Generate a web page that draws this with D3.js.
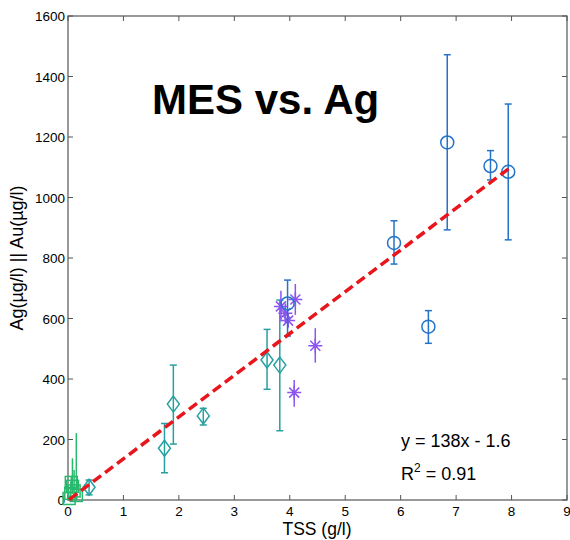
<!DOCTYPE html>
<html>
<head>
<meta charset="utf-8">
<script src="https://cdn.jsdelivr.net/npm/d3@7"></script>
<style>
body { margin: 0; background: #fff; }
svg text { font-family: "Liberation Sans", Arial, sans-serif; }
</style>
</head>
<body>
<script>
// series: [x, y, errLow, errHigh]
var circles = [
	[5.88, 850, 780, 923],
	[6.84, 1182, 893, 1472],
	[7.62, 1104, 1058, 1155],
	[7.94, 1085, 860, 1309],
	[6.50, 573, 518, 626],
	[3.96, 650, 542, 727]
];
var diamonds = [
	[0.38, 42, 17, 66],
	[1.74, 171, 90, 253],
	[1.90, 317, 185, 446],
	[2.44, 278, 248, 303],
	[3.59, 463, 366, 564],
	[3.82, 446, 229, 661]
];
var stars = [
	[3.84, 640, 590, 692],
	[3.92, 617, 585, 650],
	[3.97, 593, 570, 615],
	[4.10, 663, 612, 714],
	[4.46, 510, 454, 568],
	[4.08, 355, 308, 397]
];
var squares = [
	[0.02, 5, 0, 15],
	[0.05, 22, 5, 60],
	[0.08, 45, 20, 138],
	[0.11, 30, 10, 99],
	[0.15, 15, 5, 221],
	[0.06, 58, 40, 80]
];
var fit = { slope: 138, intercept: -1.6, x0: 0.02, x1: 7.95 };
var xTicks = [0, 1, 2, 3, 4, 5, 6, 7, 8, 9];
var yTicks = [0, 200, 400, 600, 800, 1000, 1200, 1400, 1600];

var width = 570, height = 540;
var margin = { left: 68, right: 3, top: 16, bottom: 40 };

var svg = d3.select('body').append('svg')
	.attr('width', width)
	.attr('height', height);

var x = d3.scaleLinear().domain([0, 9]).range([margin.left, width - margin.right]);
var y = d3.scaleLinear().domain([0, 1600]).range([height - margin.bottom, margin.top]);

// frame + ticks
var axisColor = '#555';
var frame = svg.append('g');
frame.append('rect')
	.attr('x', x(0)).attr('y', y(1600))
	.attr('width', x(9) - x(0)).attr('height', y(0) - y(1600))
	.attr('fill', 'none').attr('stroke', axisColor).attr('stroke-width', 1.2);

var tl = 5;
xTicks.forEach(function(t) {
	frame.append('line').attr('x1', x(t)).attr('x2', x(t)).attr('y1', y(0)).attr('y2', y(0) - tl).attr('stroke', axisColor);
	frame.append('line').attr('x1', x(t)).attr('x2', x(t)).attr('y1', y(1600)).attr('y2', y(1600) + tl).attr('stroke', axisColor);
	frame.append('text').attr('x', x(t)).attr('y', y(0) + 16)
		.attr('text-anchor', 'middle').attr('font-size', 13.5).text(t);
});
yTicks.forEach(function(t) {
	frame.append('line').attr('y1', y(t)).attr('y2', y(t)).attr('x1', x(0)).attr('x2', x(0) + tl).attr('stroke', axisColor);
	frame.append('line').attr('y1', y(t)).attr('y2', y(t)).attr('x1', x(9)).attr('x2', x(9) - tl).attr('stroke', axisColor);
	frame.append('text').attr('x', x(0) - 3).attr('y', y(t) + 5)
		.attr('text-anchor', 'end').attr('font-size', 13.5).text(t);
});

// axis labels
svg.append('text').attr('x', 317).attr('y', 535)
	.attr('text-anchor', 'middle').attr('font-size', 17.5).text('TSS (g/l)');
svg.append('text').attr('transform', 'translate(23,258) rotate(-90)')
	.attr('text-anchor', 'middle').attr('font-size', 18).text('Ag(µg/l) || Au(µg/l)');

// error bars
function errorBars(data, color, cap) {
	var g = svg.append('g').attr('stroke', color).attr('stroke-width', 1.5);
	data.forEach(function(d) {
		g.append('line').attr('x1', x(d[0])).attr('x2', x(d[0])).attr('y1', y(d[2])).attr('y2', y(d[3]));
		if (cap) {
			[d[2], d[3]].forEach(function(v) {
				g.append('line').attr('x1', x(d[0]) - cap).attr('x2', x(d[0]) + cap).attr('y1', y(v)).attr('y2', y(v));
			});
		}
	});
	return g;
}

var cSq = 'rgb(40,185,110)', cDia = 'rgb(38,160,160)', cStar = 'rgb(140,85,240)', cCirc = 'rgb(35,115,200)';

// squares
errorBars(squares, cSq, 0);
svg.append('g').selectAll('rect').data(squares).enter().append('rect')
	.attr('x', function(d) { return x(d[0]) - 6; })
	.attr('y', function(d) { return y(d[1]) - 6; })
	.attr('width', 12).attr('height', 12)
	.attr('fill', 'none').attr('stroke', cSq).attr('stroke-width', 1.5);

// diamonds
errorBars(diamonds, cDia, 3.5);
svg.append('g').selectAll('path').data(diamonds).enter().append('path')
	.attr('d', function(d) {
		var cx = x(d[0]), cy = y(d[1]);
		return 'M' + cx + ',' + (cy - 8) + 'L' + (cx + 6) + ',' + cy + 'L' + cx + ',' + (cy + 8) + 'L' + (cx - 6) + ',' + cy + 'Z';
	})
	.attr('fill', 'none').attr('stroke', cDia).attr('stroke-width', 1.5);

// stars
errorBars(stars, cStar, 0);
svg.append('g').selectAll('path').data(stars).enter().append('path')
	.attr('d', function(d) {
		var cx = x(d[0]), cy = y(d[1]), r = 7, s = 5;
		return 'M' + (cx - r) + ',' + cy + 'L' + (cx + r) + ',' + cy +
			'M' + cx + ',' + (cy - r) + 'L' + cx + ',' + (cy + r) +
			'M' + (cx - s) + ',' + (cy - s) + 'L' + (cx + s) + ',' + (cy + s) +
			'M' + (cx - s) + ',' + (cy + s) + 'L' + (cx + s) + ',' + (cy - s);
	})
	.attr('fill', 'none').attr('stroke', cStar).attr('stroke-width', 1.5);
svg.append('g').selectAll('circle').data(stars).enter().append('circle')
	.attr('cx', function(d) { return x(d[0]); })
	.attr('cy', function(d) { return y(d[1]); })
	.attr('r', 2).attr('fill', cStar);

// circles
errorBars(circles, cCirc, 3.5);
svg.append('g').selectAll('circle').data(circles).enter().append('circle')
	.attr('cx', function(d) { return x(d[0]); })
	.attr('cy', function(d) { return y(d[1]); })
	.attr('r', 6.5)
	.attr('fill', 'none').attr('stroke', cCirc).attr('stroke-width', 1.5);

// regression line
var line = d3.line()
	.x(function(d) { return x(d); })
	.y(function(d) { return y(fit.slope * d + fit.intercept); });
svg.append('path')
	.datum([fit.x0, fit.x1])
	.attr('d', line)
	.attr('fill', 'none')
	.attr('stroke', '#e8161c')
	.attr('stroke-width', 3.5)
	.attr('stroke-dasharray', '10,5');

// title + equation
svg.append('text').attr('x', 152).attr('y', 114)
	.attr('font-size', 42).attr('font-weight', 'bold').text('MES vs. Ag');
svg.append('text').attr('x', 401).attr('y', 447).attr('font-size', 18).text('y = 138x - 1.6');
var r2 = svg.append('text').attr('x', 401).attr('y', 480).attr('font-size', 18);
r2.append('tspan').text('R');
r2.append('tspan').attr('dy', -8).attr('font-size', 12).text('2');
r2.append('tspan').attr('dy', 8).text(' = 0.91');
</script>
</body>
</html>
